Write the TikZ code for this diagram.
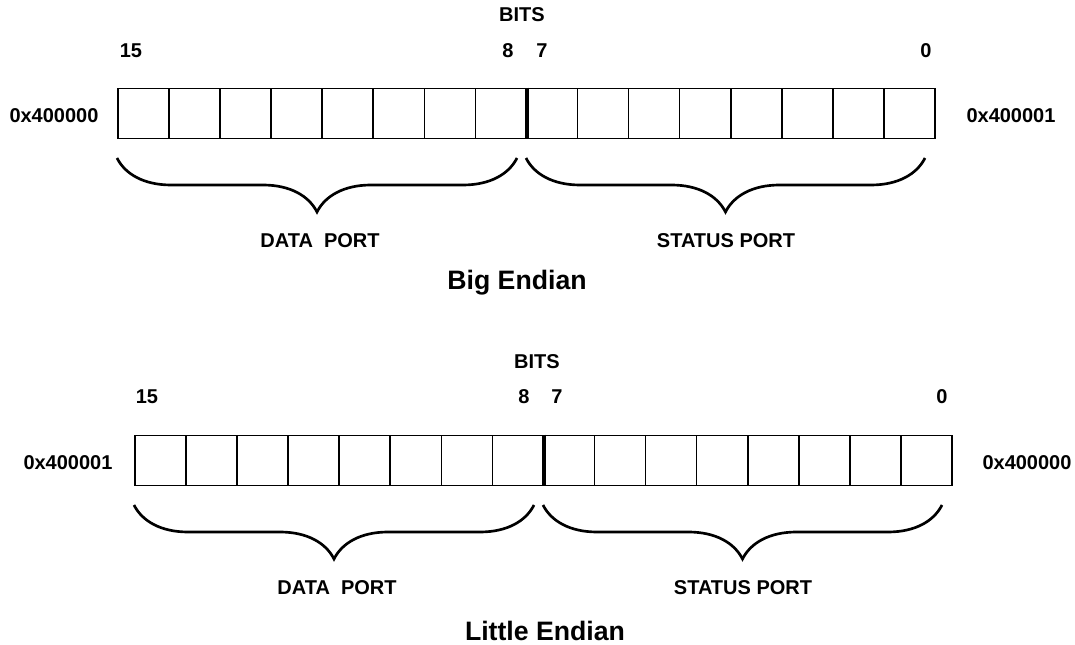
\documentclass[tikz,border=0pt]{standalone}
\usepackage{fontspec}
\setmainfont{Liberation Sans}
\usetikzlibrary{decorations.pathreplacing}

\begin{document}
\begin{tikzpicture}[x=0.75pt,y=-0.75pt,
		lbl/.style={font=\bfseries\fontsize{15}{17}\selectfont,inner sep=0pt},
		ttl/.style={font=\bfseries\fontsize{20}{24}\selectfont,inner sep=0pt},
		cell/.style={draw,line width=1.2pt,minimum width=38.3pt,minimum height=37.5pt,inner sep=0pt},
		brc/.style={decorate,decoration={brace,mirror,amplitude=40.5pt},line width=2pt}]
		\useasboundingbox (0,0) rectangle (1075,645);
		% Big Endian
		\foreach \i in {0,...,15}
			\node[cell] (b\i) at ({143.5+51.06*\i},113.5) {};
		\draw[line width=3pt] (b7.north east) -- (b7.south east);
		\node[lbl] (bbits) at (522,15) {BITS};
		\node[lbl] (b15) at (131,51) {15};
		\node[lbl] (b8) at (508,51) {8};
		\node[lbl] (b7l) at (542,51) {7};
		\node[lbl] (b0) at (926,51) {0};
		\node[lbl] (baddrl) at (54,116) {0x400000};
		\node[lbl] (baddrr) at (1011,116) {0x400001};
		\coordinate (bda) at (117,158);
		\coordinate (bdb) at (517,158);
		\coordinate (bsa) at (526,158);
		\coordinate (bsb) at (925,158);
		\draw[brc] (bda) -- (bdb);
		\draw[brc] (bsa) -- (bsb);
		\node[lbl] (bdata) at (320,241) {DATA\ \ PORT};
		\node[lbl] (bstat) at (726,241) {STATUS PORT};
		\node[ttl] (btitle) at (517,283) {Big Endian};
		% Little Endian
		\foreach \i in {0,...,15}
			\node[cell] (l\i) at ({160.5+51.06*\i},460.5) {};
		\draw[line width=3pt] (l7.north east) -- (l7.south east);
		\node[lbl] (lbits) at (537,362) {BITS};
		\node[lbl] (l15) at (147,397) {15};
		\node[lbl] (l8) at (524,397) {8};
		\node[lbl] (l7l) at (557,397) {7};
		\node[lbl] (l0) at (942,397) {0};
		\node[lbl] (laddrl) at (68,463) {0x400001};
		\node[lbl] (laddrr) at (1027,463) {0x400000};
		\coordinate (lda) at (134,505);
		\coordinate (ldb) at (534,505);
		\coordinate (lsa) at (543,505);
		\coordinate (lsb) at (942,505);
		\draw[brc] (lda) -- (ldb);
		\draw[brc] (lsa) -- (lsb);
		\node[lbl] (ldata) at (337,588) {DATA\ \ PORT};
		\node[lbl] (lstat) at (743,588) {STATUS PORT};
		\node[ttl] (ltitle) at (545,631) {Little Endian};
\end{tikzpicture}
\end{document}
